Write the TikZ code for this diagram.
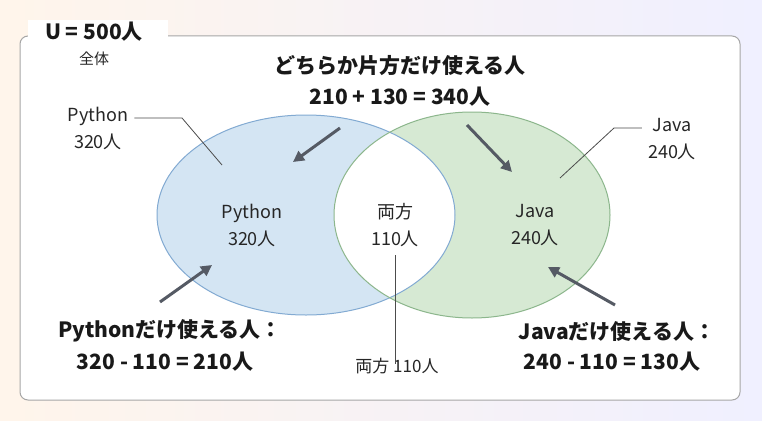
\documentclass[tikz,border=0pt]{standalone}
\usepackage{fontspec}
\setmainfont{Noto Sans CJK JP}
\usetikzlibrary{arrows.meta}
\definecolor{bl}{RGB}{212,229,243}\definecolor{blS}{RGB}{130,170,210}
\definecolor{gr}{RGB}{214,233,211}\definecolor{grS}{RGB}{140,182,140}
\definecolor{ar}{RGB}{85,90,100}
\begin{document}
\begin{tikzpicture}[x=1pt,y=-1pt,
  big/.style={font=\bfseries\fontsize{21}{31}\selectfont,align=center,text=black!90,inner sep=0pt},
  mid/.style={font=\fontsize{18}{27}\selectfont,align=center,text=black!85,inner sep=0pt},
  sm/.style={font=\fontsize{15}{18}\selectfont,align=center,text=black!85,inner sep=0pt},
  arr/.style={-{Triangle[length=11pt,width=11pt]},line width=3pt,ar},
  lead/.style={line width=0.8pt,black!70}]
\shade[left color=orange!8,right color=blue!6] (0,0) rectangle (762,420);
\useasboundingbox (0,0) rectangle (762,420);
\draw[black!35,line width=1pt,fill=white,rounded corners=8pt] (20,36) rectangle (740,400);
\fill[white] (28,20) rectangle (168,50);
\node[big] (U) at (94,32) {U = 500人};
\node[sm] (all) at (94,59) {全体};
\fill[bl] (306,215) ellipse [x radius=149,y radius=100];
\fill[gr] (472,215) ellipse [x radius=138,y radius=103];
\begin{scope}
\clip (306,215) ellipse [x radius=149,y radius=100];
\fill[white] (472,215) ellipse [x radius=138,y radius=103];
\end{scope}
\draw[blS,line width=1pt] (306,215) ellipse [x radius=149,y radius=100];
\draw[grS,line width=1pt] (472,215) ellipse [x radius=138,y radius=103];
\node[big] (t1) at (400,66) {どちらか片方だけ使える人};
\node[big] (t2) at (400,97) {210 + 130 = 340人};
\node[mid] (lp) at (98,128) {Python\\320人};
\node[mid] (lj) at (672,139) {Java\\240人};
\coordinate (lpa) at (182,118); \coordinate (lpb) at (222,165);
\draw[lead] ([xshift=6pt]lp.east|-lpa) -- (lpa) -- (lpb);
\coordinate (lja) at (614,128); \coordinate (ljb) at (560,178);
\draw[lead] ([xshift=-6pt]lj.west|-lja) -- (lja) -- (ljb);
\node[mid] (ip) at (252,225) {Python\\320人};
\node[mid] (ib) at (395,225) {両方\\110人};
\node[mid] (ij) at (535,225) {Java\\240人};
\coordinate (a1s) at (340,128); \coordinate (a1e) at (293,162);
\coordinate (a2s) at (467,125); \coordinate (a2e) at (512,172);
\coordinate (a3s) at (160,302); \coordinate (a3e) at (212,265);
\coordinate (a4s) at (615,305); \coordinate (a4e) at (548,267);
\draw[arr] (a1s) -- (a1e); \draw[arr] (a2s) -- (a2e);
\draw[arr] (a3s) -- (a3e); \draw[arr] (a4s) -- (a4e);
\node[big] (bl1) at (170,331) {Pythonだけ使える人：};
\node[big] (bl2) at (165,362) {320 - 110 = 210人};
\node[big] (br1) at (617,331) {Javaだけ使える人：};
\node[big] (br2) at (612,362) {240 - 110 = 130人};
\node[sm,font=\fontsize{17}{20}\selectfont] (bb) at (397,366) {両方 110人};
\coordinate (bt) at (395,255);
\draw[lead] ([yshift=-6pt]bb.north-|bt) -- (bt);
\end{tikzpicture}
\end{document}
